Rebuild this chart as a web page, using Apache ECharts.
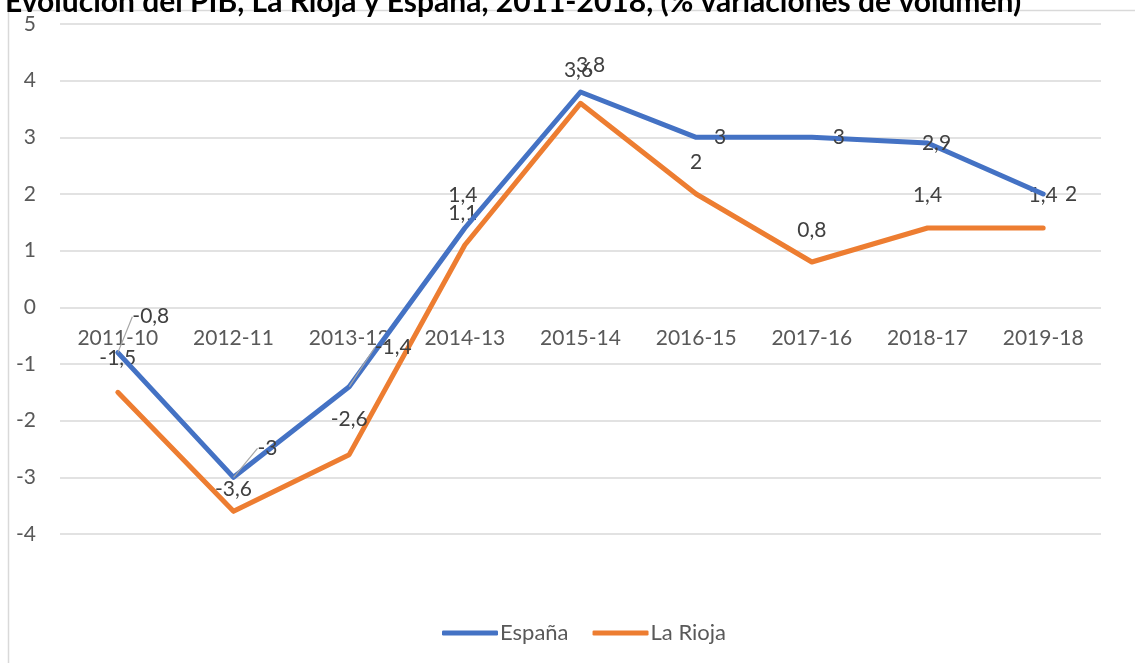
<!DOCTYPE html>
<html>
<head>
<meta charset="utf-8">
<script src="https://cdn.jsdelivr.net/npm/echarts@6/dist/echarts.min.js"></script>
<style>
  html, body { margin: 0; padding: 0; background: #fff; }
  #chart { width: 1135px; height: 663px; }
</style>
</head>
<body>
<div id="chart"></div>
<script>
// datos
var periodos = ['2011-10', '2012-11', '2013-12', '2014-13', '2015-14', '2016-15', '2017-16', '2018-17', '2019-18'];
var espana = [-0.8, -3, -1.4, 1.4, 3.8, 3, 3, 2.9, 2];
var laRioja = [-1.5, -3.6, -2.6, 1.1, 3.6, 2, 0.8, 1.4, 1.4];
var ticksY = [-4, -3, -2, -1, 0, 1, 2, 3, 4, 5];

// desplazamiento de las etiquetas (como en Excel)
var despEspana = [[33, -36], [34, -29], [44, -39], [-2, -33], [10, -27], [24, 0], [27, 0], [9, 0], [28, 0]];
var despRioja = [[0, -34], [0, -22], [0, -35], [-2, -32], [-2, -33], [0, -32], [0, -32], [0, -33], [0, -33]];
var conLinea = [true, true, true, false, false, false, false, false, false];

var fuente = 'Lato, "Open Sans", sans-serif';
var chart = echarts.init(document.getElementById('chart'));

var gTop = 24, gBottom = 129;
var altoPlot = 663 - gTop - gBottom;
var yMin = ticksY[0], yMax = ticksY[ticksY.length - 1];
// el eje de categorías va sobre el cero
var desplazX = -altoPlot * (0 - yMin) / (yMax - yMin);

function coma(v) { return String(v).replace('.', ','); }

function serie(nombre, datos, color, desp, lineas) {
  return {
    name: nombre,
    type: 'line',
    data: datos.map(function (v, i) {
      return { value: v, labelLine: { show: !!(lineas && lineas[i]) } };
    }),
    symbol: 'circle',
    symbolSize: 0.1,
    showSymbol: true,
    lineStyle: { width: 5, color: color, cap: 'round', join: 'round' },
    itemStyle: { color: color },
    label: {
      show: true,
      position: 'inside',
      color: '#404040',
      fontSize: 21,
      fontFamily: fuente,
      formatter: function (p) { return coma(p.value); }
    },
    labelLine: { show: false, lineStyle: { color: '#a6a6a6', width: 1.2 } },
    labelLayout: function (p) {
      var d = desp[p.dataIndex];
      return { dx: d[0], dy: d[1], hideOverlap: false };
    },
    emphasis: { disabled: true },
    z: nombre === 'España' ? 3 : 2
  };
}

var option = {
  animation: false,
  title: {
    text: 'Evolución del PIB, La Rioja y España, 2011-2018, (% variaciones de volumen)',
    left: 0,
    top: -18,
    textStyle: { fontSize: 30, fontWeight: 'bold', color: '#000', fontFamily: fuente }
  },
  graphic: [{
    type: 'polyline',
    shape: { points: [[8.5, 663], [8.5, 10.5], [1135, 10.5]] },
    style: { stroke: '#d9d9d9', lineWidth: 1.5, fill: null },
    silent: true
  }],
  legend: {
    bottom: 14,
    left: 437,
    itemWidth: 56,
    itemHeight: 5,
    itemGap: 24,
    icon: 'roundRect',
    textStyle: { fontSize: 22, color: '#595959', fontFamily: fuente, padding: [0, 0, 0, -3] },
    data: ['España', 'La Rioja']
  },
  grid: { left: 60, right: 34, top: gTop, bottom: gBottom },
  xAxis: {
    type: 'category',
    data: periodos,
    boundaryGap: true,
    offset: desplazX,
    axisLine: { show: false },
    axisTick: { show: false },
    axisLabel: { color: '#595959', fontSize: 21, fontFamily: fuente, margin: 20 }
  },
  yAxis: {
    type: 'value',
    min: yMin,
    max: yMax,
    interval: 1,
    axisLine: { show: false },
    axisTick: { show: false },
    axisLabel: { color: '#595959', fontSize: 21, fontFamily: fuente, margin: 24, align: 'right' },
    splitLine: { lineStyle: { color: '#d9d9d9', width: 1.5 } }
  },
  series: [
    serie('España', espana, '#4472C4', despEspana, conLinea),
    serie('La Rioja', laRioja, '#ED7D31', despRioja, null)
  ]
};
chart.setOption(option);
</script>
</body>
</html>
